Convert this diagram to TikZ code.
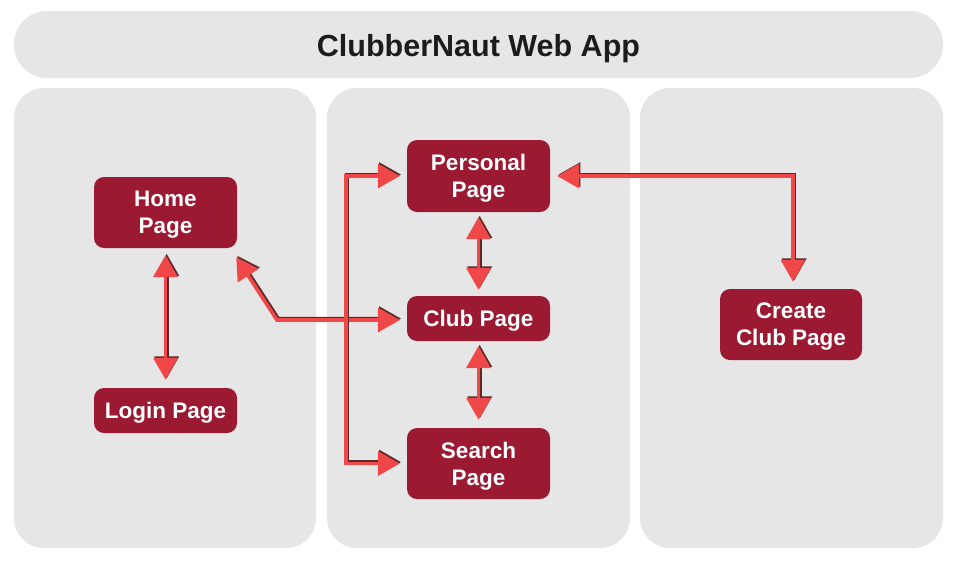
\documentclass[tikz,border=0pt]{standalone}
\usepackage{fontspec}
\setmainfont{Liberation Sans}
\usetikzlibrary{arrows.meta,calc}
\definecolor{panel}{HTML}{E6E6E6}
\definecolor{boxred}{HTML}{9B1A32}
\definecolor{arrred}{HTML}{F04848}
\definecolor{shadowc}{HTML}{5A2A2A}
\definecolor{titlec}{HTML}{1C1C1C}
\newcommand\lowertext[1]{\raisebox{-2.5pt}[\height][\depth]{#1}}
\tikzset{
  panelbox/.style={fill=panel, draw=none, rounded corners=30pt},
  pagebox/.style={fill=boxred, draw=none, rounded corners=10pt, text=white,
    font=\bfseries\fontsize{22.5}{27}\selectfont, align=center,
    minimum width=143pt, inner sep=0pt},
  mainline/.style={draw=arrred, line width=3.6pt,
    arrows={Triangle[width=24pt,length=22pt]-Triangle[width=24pt,length=22pt]}},
  shadowline/.style={mainline, draw=shadowc, transform canvas={shift={(1.2pt,1.4pt)}}},
}
\newcommand\twinarrow[2][]{\draw[shadowline,#1] #2; \draw[mainline,#1] #2;}
\begin{document}
\begin{tikzpicture}[x=1pt,y=-1pt]
\useasboundingbox[fill=white] (0,0) rectangle (957,560);
% title bar and panels
\fill[panel, rounded corners=33pt] (14,11) rectangle (943,78);
\node[font=\bfseries\fontsize{30.5}{36}\selectfont, text=titlec] (title) at (478.5,49) {ClubberNaut Web App};
\fill[panelbox] (14,88) rectangle (316,548);
\fill[panelbox] (327,88) rectangle (630,548);
\fill[panelbox] (640,88) rectangle (943,548);
% page nodes
\node[pagebox, minimum height=71pt] (home) at (165.5,212.5) {\lowertext{\parbox{140pt}{\centering Home\\Page}}};
\node[pagebox, minimum height=45pt] (login) at (165.5,410.5) {\lowertext{Login Page}};
\node[pagebox, minimum height=72pt] (personal) at (478.5,176) {\lowertext{\parbox{140pt}{\centering Personal\\Page}}};
\node[pagebox, minimum height=45pt] (club) at (478.5,318.5) {\lowertext{Club Page}};
\node[pagebox, minimum height=71pt] (search) at (478.5,463.5) {\lowertext{\parbox{140pt}{\centering Search\\Page}}};
\node[pagebox, minimum height=71pt, minimum width=142pt] (create) at (791,324.5) {\lowertext{\parbox{140pt}{\centering Create\\Club Page}}};
% helper coordinates
\coordinate (hcstart) at ($(home.south east)+(-1,9)$);
\coordinate (hcbend) at (277,320);
\coordinate (brk) at (346,176);
% connectors
\twinarrow[shorten <=7pt, shorten >=8pt]{(home.south) -- (login.north)}
\twinarrow[shorten <=5pt, shorten >=6pt]{(personal.south) -- (club.north)}
\twinarrow[shorten <=5pt, shorten >=8pt]{(club.south) -- (search.north)}
\twinarrow[shorten >=7pt]{(hcstart) -- (hcbend) -- (club.west |- hcbend)}
\twinarrow[shorten <=7pt, shorten >=7pt]{(personal.west) -- (brk) |- (search.west)}
\twinarrow[shorten <=7pt, shorten >=7pt]{(personal.east) -| ($(create.north)+(2,0)$)}
\end{tikzpicture}
\end{document}
